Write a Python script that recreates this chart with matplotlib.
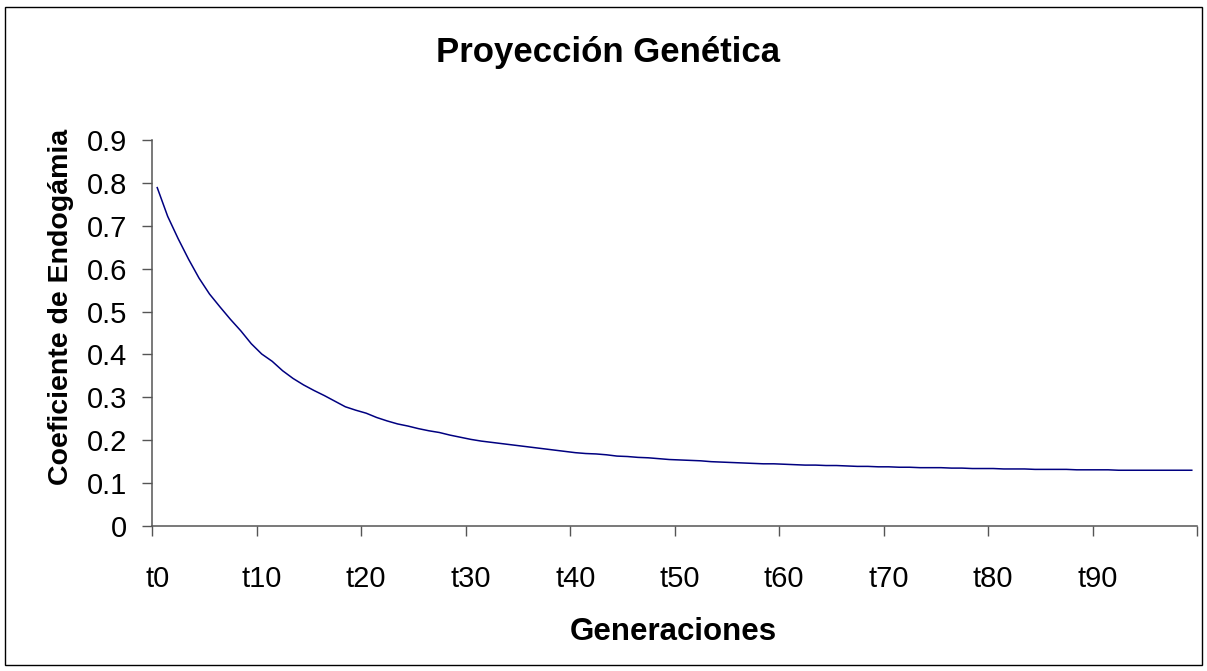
import numpy as np
import matplotlib
matplotlib.use("Agg")
import matplotlib.pyplot as plt
from matplotlib.patches import Rectangle

plt.rcParams['font.family'] = ['Liberation Sans', 'DejaVu Sans']

# generaciones t0..t99
generaciones = ["t%d" % i for i in range(100)]

# coeficiente de endogamia
coeficiente = [
    0.789, 0.722, 0.670, 0.622, 0.578, 0.541, 0.511, 0.482, 0.455, 0.425,
    0.401, 0.384, 0.362, 0.344, 0.329, 0.316, 0.304, 0.291, 0.278, 0.270,
    0.263, 0.253, 0.245, 0.238, 0.233, 0.227, 0.222, 0.218, 0.212, 0.207,
    0.202, 0.198, 0.195, 0.192, 0.189, 0.186, 0.183, 0.180, 0.177, 0.174,
    0.171, 0.169, 0.168, 0.166, 0.163, 0.162, 0.160, 0.159, 0.157, 0.155,
    0.154, 0.153, 0.152, 0.150, 0.149, 0.148, 0.147, 0.146, 0.145, 0.145,
    0.144, 0.143, 0.142, 0.142, 0.141, 0.141, 0.140, 0.139, 0.139, 0.138,
    0.138, 0.137, 0.137, 0.136, 0.136, 0.136, 0.135, 0.135, 0.134, 0.134,
    0.134, 0.133, 0.133, 0.133, 0.132, 0.132, 0.132, 0.132, 0.131, 0.131,
    0.131, 0.131, 0.130, 0.130, 0.130, 0.130, 0.130, 0.130, 0.130, 0.130,
]

y_ticks = [0, 0.1, 0.2, 0.3, 0.4, 0.5, 0.6, 0.7, 0.8, 0.9]
y_tick_labels = ["0", "0.1", "0.2", "0.3", "0.4", "0.5", "0.6", "0.7", "0.8", "0.9"]

W, H = 1207, 671
fig = plt.figure(figsize=(W / 100, H / 100), dpi=100)
ax = fig.add_axes([152 / W, 1 - 526 / H, (1197 - 152) / W, (526 - 140) / H])

x = np.arange(len(generaciones))
ax.plot(x, coeficiente, color="#000080", lw=1.1)

ax.set_xlim(-0.5, len(generaciones) - 0.5)
ax.set_ylim(0, 0.9)

# ticks between categories, labels every 10 categories
ax.set_xticks(np.arange(-0.5, len(generaciones), 10))
ax.set_xticklabels([])
ax.set_xticks(x[::10], minor=True)
ax.set_xticklabels(generaciones[::10], minor=True)
ax.tick_params(axis="x", which="major", direction="out", length=7.5, width=1.0,
               color="#555555")
ax.tick_params(axis="x", which="minor", length=0, pad=28, labelsize=21)

ax.set_yticks(y_ticks)
ax.set_yticklabels(y_tick_labels)
ax.tick_params(axis="y", direction="out", length=7.2, width=1.0, pad=10.5,
               labelsize=21, color="#555555")

for s in ["top", "right"]:
    ax.spines[s].set_visible(False)
for s in ["left", "bottom"]:
    ax.spines[s].set_color("#555555")
    ax.spines[s].set_linewidth(1.1)

fig.text(607.5 / W, 1 - 62 / H, "Proyección Genética", ha="center",
         va="baseline", fontsize=25, fontweight="bold")
fig.text(673 / W, 1 - 640 / H, "Generaciones", ha="center", va="baseline",
         fontsize=22.5, fontweight="bold")
fig.text(61 / W, 1 - 307 / H, "Coeficiente de Endogámia", ha="center",
         va="center", rotation=90, fontsize=20.5, fontweight="bold")

# chart border
fig.patches.append(Rectangle((5 / W, 1 - 665 / H), (1202 - 5) / W, (665 - 7) / H,
                             transform=fig.transFigure, fill=False,
                             edgecolor="black", lw=1.0))

fig.savefig("out.png", dpi=100)
